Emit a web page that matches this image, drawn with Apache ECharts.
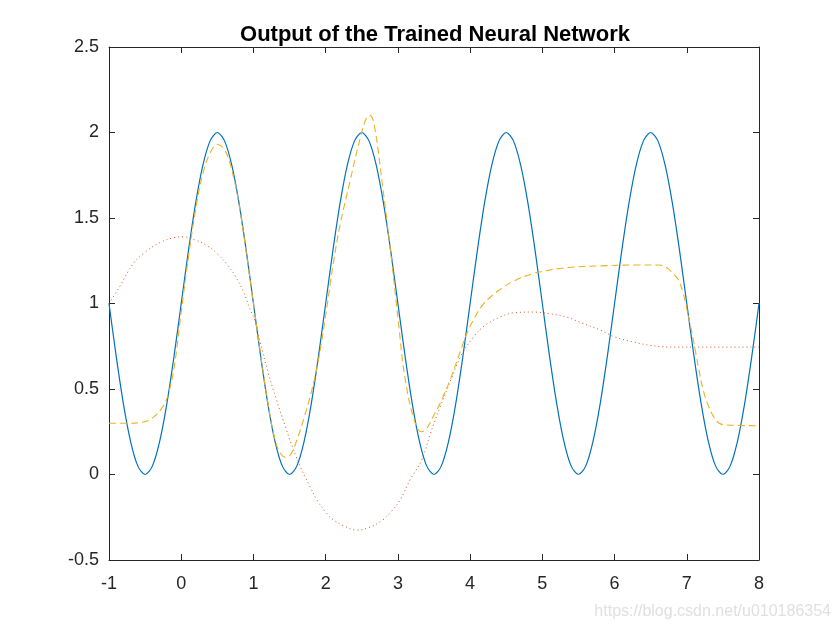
<!DOCTYPE html>
<html>
<head>
<meta charset="utf-8">
<script src="https://cdn.jsdelivr.net/npm/echarts@6/dist/echarts.min.js"></script>
<style>html,body{margin:0;padding:0;background:#fff;}#c{width:840px;height:630px;}</style>
</head>
<body>
<div id="c"></div>
<script>
// Blue target curve, x from -1 to 8 step 0.1
const targetX0 = -1, targetStep = 0.1;
const targetY = [
1,0.691,0.412,0.191,0.049,0,0.049,0.191,0.412,0.691,1,1.309,1.588,1.809,1.951,2,1.951,1.809,1.588,1.309,
1,0.691,0.412,0.191,0.049,0,0.049,0.191,0.412,0.691,1,1.309,1.588,1.809,1.951,2,1.951,1.809,1.588,1.309,
1,0.691,0.412,0.191,0.049,0,0.049,0.191,0.412,0.691,1,1.309,1.588,1.809,1.951,2,1.951,1.809,1.588,1.309,
1,0.691,0.412,0.191,0.049,0,0.049,0.191,0.412,0.691,1,1.309,1.588,1.809,1.951,2,1.951,1.809,1.588,1.309,
1,0.691,0.412,0.191,0.049,0,0.049,0.191,0.412,0.691,1
];
// Dashed (trained network output)
const trainedX = [-1,-0.75,-0.55,-0.4,-0.25,-0.18,-0.1,0,0.1,0.2,0.3,0.4,0.5,0.6,0.7,0.8,0.9,1.0,1.1,1.2,1.3,1.38,1.45,1.52,1.6,1.7,1.8,1.9,2.0,2.1,2.2,2.34,2.45,2.55,2.61,2.67,2.79,2.9,3.0,3.1,3.24,3.33,3.4,3.49,3.6,3.72,3.84,3.96,4.08,4.18,4.3,4.41,4.6,4.87,5.1,5.34,5.8,6.3,6.62,6.72,6.8,6.88,6.95,7.02,7.09,7.16,7.23,7.3,7.37,7.45,7.55,8];
const trainedY = [0.30,0.30,0.305,0.33,0.40,0.47,0.62,0.95,1.27,1.55,1.76,1.88,1.93,1.90,1.78,1.58,1.30,1.0,0.70,0.42,0.20,0.12,0.10,0.12,0.20,0.33,0.48,0.67,0.93,1.22,1.46,1.72,1.92,2.07,2.10,2.05,1.68,1.30,0.92,0.56,0.30,0.25,0.27,0.34,0.43,0.55,0.69,0.83,0.93,0.995,1.045,1.08,1.13,1.175,1.195,1.21,1.22,1.225,1.225,1.21,1.18,1.14,1.06,0.93,0.79,0.63,0.49,0.40,0.34,0.30,0.29,0.285];
// Dotted (untrained network output)
const untrainedX = [-1,-0.85,-0.67,-0.5,-0.3,-0.1,0.03,0.2,0.35,0.49,0.65,0.75,0.86,0.95,1.02,1.09,1.2,1.32,1.45,1.55,1.65,1.77,1.88,2.0,2.11,2.25,2.43,2.6,2.79,2.9,3.03,3.17,3.33,3.45,3.58,3.75,3.88,4.04,4.2,4.41,4.6,4.87,5.1,5.34,5.55,5.8,6.0,6.26,6.5,6.73,7,8];
const untrainedY = [1.0,1.10,1.23,1.30,1.355,1.385,1.39,1.37,1.34,1.295,1.22,1.16,1.07,0.97,0.90,0.78,0.60,0.436,0.27,0.15,0.044,-0.06,-0.149,-0.22,-0.266,-0.30,-0.325,-0.31,-0.266,-0.22,-0.149,-0.03,0.085,0.24,0.39,0.57,0.70,0.80,0.87,0.92,0.945,0.95,0.94,0.92,0.885,0.845,0.805,0.775,0.755,0.746,0.745,0.745];
const xTicks = [-1,0,1,2,3,4,5,6,7,8];
const yTicks = [-0.5,0,0.5,1,1.5,2,2.5];
const titleText = 'Output of the Trained Neural Network';
const watermark = 'https://blog.csdn.net/u010186354';

const pairs = (xs, ys) => xs.map((x, i) => [x, ys[i]]);
const targetData = targetY.map((y, i) => [Math.round((targetX0 + i * targetStep) * 10) / 10, y]);

const chart = echarts.init(document.getElementById('c'), null, {renderer: 'canvas'});
const font = 'Liberation Sans, Arial, Helvetica, sans-serif';
const axisCommon = {
  axisLine: {show: true, onZero: false, lineStyle: {color: '#262626', width: 1}},
  axisTick: {show: true, inside: true, length: 6, lineStyle: {color: '#262626', width: 1}},
  splitLine: {show: false}
};
chart.setOption({
  animation: false,
  backgroundColor: '#fff',
  title: {
    text: titleText, left: 430, top: 19, textAlign: 'center',
    textStyle: {fontFamily: font, fontSize: 22, fontWeight: 'bold', color: '#000'}
  },
  grid: {left: 109, right: 81, top: 47, bottom: 70, containLabel: false},
  xAxis: [
    Object.assign({type: 'value', min: xTicks[0], max: xTicks[xTicks.length-1], interval: 1, position: 'bottom',
      axisLabel: {fontFamily: font, fontSize: 18, color: '#262626', margin: 15}}, axisCommon),
    Object.assign({type: 'value', min: xTicks[0], max: xTicks[xTicks.length-1], interval: 1, position: 'top',
      axisLabel: {show: false}}, axisCommon)
  ],
  yAxis: [
    Object.assign({type: 'value', min: yTicks[0], max: yTicks[yTicks.length-1], interval: 0.5, position: 'left',
      axisLabel: {fontFamily: font, fontSize: 18, color: '#262626', margin: 10}}, axisCommon),
    Object.assign({type: 'value', min: yTicks[0], max: yTicks[yTicks.length-1], interval: 0.5, position: 'right',
      axisLabel: {show: false}}, axisCommon)
  ],
  series: [
    {type: 'line', data: targetData, showSymbol: false, smooth: 0.3, clip: true,
      lineStyle: {color: '#0072BD', width: 1.2}},
    {type: 'line', data: pairs(untrainedX, untrainedY), showSymbol: false, smooth: 0.4, clip: true,
      lineStyle: {color: '#D95319', width: 1, type: [1, 3]}},
    {type: 'line', data: pairs(trainedX, trainedY), showSymbol: false, smooth: 0.4, clip: true,
      lineStyle: {color: '#EDB120', width: 1.1, type: [7, 4]}}
  ],
  graphic: [{
    type: 'text', right: 9, top: 604,
    style: {text: watermark, fontFamily: font, fontSize: 16, fill: '#e0e0e0'}
  }]
});
</script>
</body>
</html>
